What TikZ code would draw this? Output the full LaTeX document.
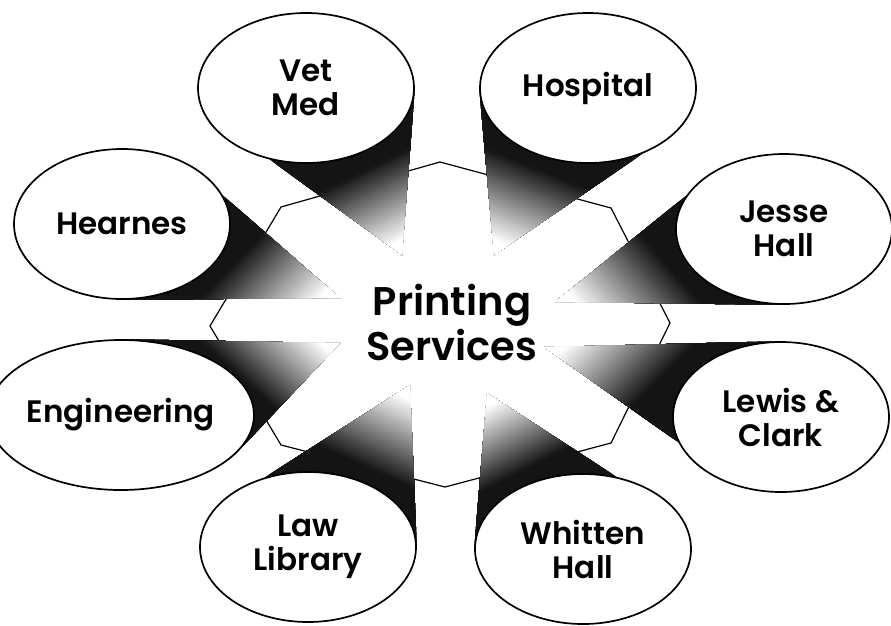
\documentclass[tikz,border=0pt]{standalone}
\usepackage{fontspec}
\IfFontExistsTF{Poppins SemiBold}
  {\setmainfont{Poppins}[BoldFont={Poppins SemiBold}]}
  {\setmainfont{Poppins}}
\usetikzlibrary{calc,backgrounds,shapes.geometric}

\begin{document}
\begin{tikzpicture}[
  x=1pt, y=-1pt,
  site/.style={ellipse, draw, line width=1.7pt, fill=white, inner sep=0pt,
    minimum width=216pt, minimum height=150pt, align=center,
    font=\bfseries\fontsize{31}{34}\selectfont},
  hub/.style={align=center, font=\bfseries\fontsize{40}{45}\selectfont},
  ring/.style={line width=1.2pt, line join=miter}
]
\useasboundingbox (0,0) rectangle (891,625);

% the eight campus sites
\node[site] (vet) at (306,88) {Vet\\Med};
\node[site] (hosp) at (588,88) {Hospital};
\node[site] (hearnes) at (122,224) {Hearnes};
\node[site] (jesse) at (784,229) {Jesse\\Hall};
\node[site] (eng) at (121,415) {Engineering};
\node[site] (lewis) at (781,417) {Lewis \&\\Clark};
\node[site] (law) at (308,547) {Law\\Library};
\node[site] (whitten) at (583,549) {Whitten\\Hall};

\node[hub] (print) at (452,322) {Printing\\Services};

% tips of the beams
\coordinate (vettip) at (402,255);
\coordinate (hosptip) at (494,255);
\coordinate (hearnestip) at (340,298);
\coordinate (jessetip) at (555,302);
\coordinate (engtip) at (340,343);
\coordinate (lewistip) at (544,347);
\coordinate (lawtip) at (410,385);
\coordinate (whittentip) at (487,393);

% corners of the octagon
\coordinate (o1) at (440,162);
\coordinate (o2) at (611,208);
\coordinate (o3) at (670,323);
\coordinate (o4) at (611,443);
\coordinate (o5) at (445,487);
\coordinate (o6) at (281,445);
\coordinate (o7) at (210,326);
\coordinate (o8) at (281,207);

\begin{pgfonlayer}{background}
\draw[ring] (o1) -- (o2) -- (o3) -- (o4) -- (o5) -- (o6) -- (o7) -- (o8) -- cycle;
\foreach \s/\p/\q in {vet/east/243, hosp/west/310, hearnes/south/16, jesse/south/161,
    eng/north/345, lewis/north/194, law/east/122, whitten/west/65} {
  \foreach \t in {0,0.02,...,0.98} {
    \pgfmathsetmacro\k{min(92,max(0,(0.9-\t)/0.6*100))}
    \fill[black!\k] (\s tip) -- ($(\s.\p)!\t!(\s tip)$) -- ($(\s.\q)!\t!(\s tip)$) -- cycle;
  }
}
\end{pgfonlayer}
\end{tikzpicture}
\end{document}
